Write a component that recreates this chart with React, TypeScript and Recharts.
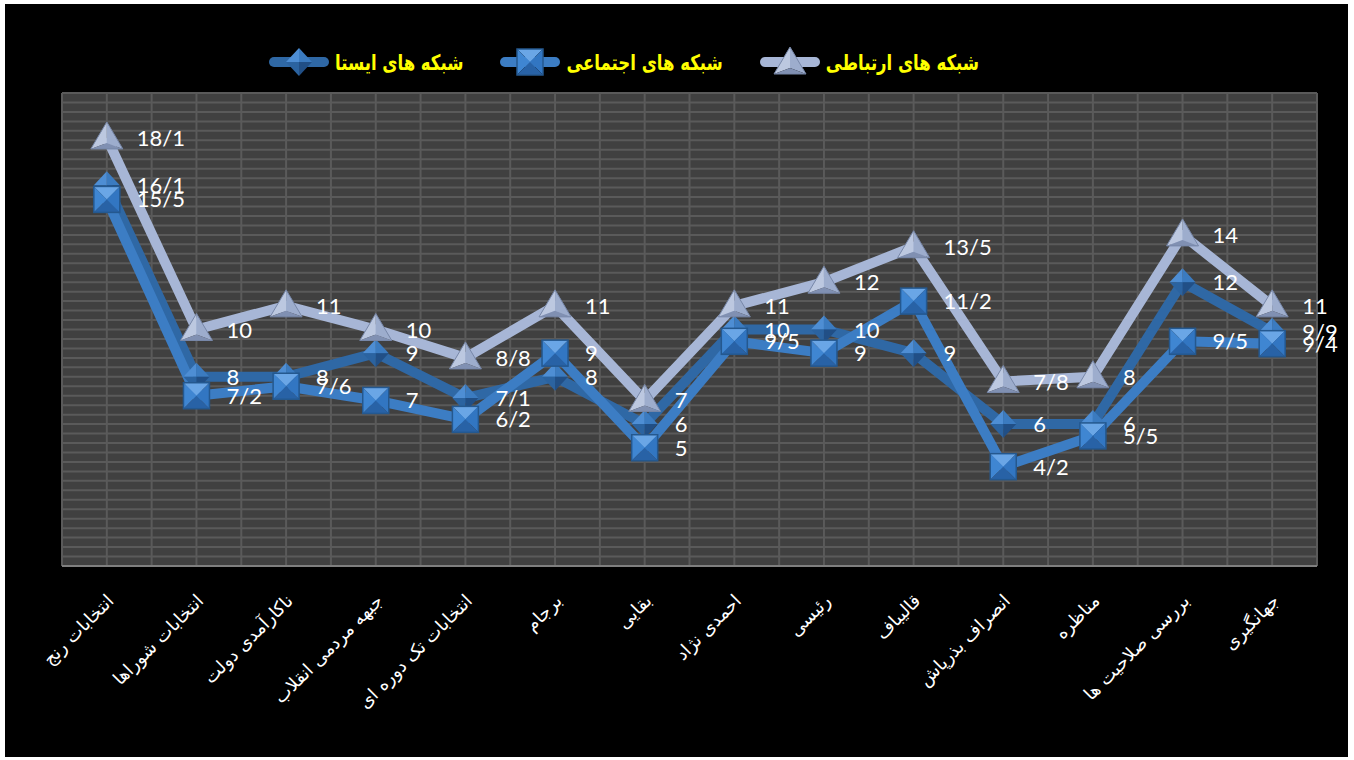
import React from 'react';
import { LineChart, Line, XAxis, YAxis, CartesianGrid, LabelList } from 'recharts';

const categories = [
  'انتخابات رنج',
  'انتخابات شوراها',
  'ناکارآمدی دولت',
  'جبهه مردمی انقلاب',
  'انتخابات تک دوره ای',
  'برجام',
  'بقایی',
  'احمدی نژاد',
  'رئیسی',
  'قالیباف',
  'انصراف بذرپاش',
  'مناظره',
  'بررسی صلاحیت ها',
  'جهانگیری',
];

const ertebati = [18.1, 10, 11, 10, 8.8, 11, 7, 11, 12, 13.5, 7.8, 8, 14, 11];
const ejtemaei = [15.5, 7.2, 7.6, 7, 6.2, 9, 5, 9.5, 9, 11.2, 4.2, 5.5, 9.5, 9.4];
const istaa = [16.1, 8, 8, 9, 7.1, 8, 6, 10, 10, 9, 6, 6, 12, 9.9];

const seriesNames = ['شبکه های ایستا', 'شبکه های اجتماعی', 'شبکه های ارتباطی'];

const yTicks: number[] = [];
for (let i = 0; i <= 50; i++) yTicks.push(Math.round(i * 0.4 * 10) / 10);
const xIdx = categories.map((_, i) => i);
const xGrid: number[] = [];
for (let i = 0; i <= 28; i++) xGrid.push(-0.5 + i * 0.5);

const data = categories.map((c, i) => ({
  idx: i,
  name: c,
  ertebati: ertebati[i],
  ejtemaei: ejtemaei[i],
  istaa: istaa[i],
}));

const C_ERT = '#A7B6D6';
const C_EJT = '#3C7DC4';
const C_IST = '#2F68A5';

const fmt = (v: any) => String(v).replace('.', '/');

const Triangle = ({ cx, cy }: any) => {
  if (cx == null || cy == null) return null;
  const top = [cx, cy - 16];
  const bl = [cx - 16, cy + 11];
  const br = [cx + 16, cy + 11];
  const c = [cx, cy + 5];
  const p = (a: number[]) => `${a[0]},${a[1]}`;
  return (
    <g>
      <polygon points={`${p(top)} ${p(bl)} ${p(c)}`} fill="#BCC8E0" />
      <polygon points={`${p(top)} ${p(br)} ${p(c)}`} fill="#9DADCD" />
      <polygon points={`${p(bl)} ${p(br)} ${p(c)}`} fill="#8090B2" />
      <polygon points={`${p(top)} ${p(bl)} ${p(br)}`} fill="none" stroke="#7787A8" strokeWidth={1} />
    </g>
  );
};

const Square = ({ cx, cy }: any) => {
  if (cx == null || cy == null) return null;
  const s = 13;
  const tl = [cx - s, cy - s];
  const tr = [cx + s, cy - s];
  const bl = [cx - s, cy + s];
  const br = [cx + s, cy + s];
  const c = [cx, cy];
  const p = (a: number[]) => `${a[0]},${a[1]}`;
  return (
    <g>
      <polygon points={`${p(tl)} ${p(tr)} ${p(c)}`} fill="#6AA6E6" />
      <polygon points={`${p(tl)} ${p(bl)} ${p(c)}`} fill="#3F86D2" />
      <polygon points={`${p(tr)} ${p(br)} ${p(c)}`} fill="#3276C2" />
      <polygon points={`${p(bl)} ${p(br)} ${p(c)}`} fill="#2862A6" />
      <rect x={cx - s} y={cy - s} width={2 * s} height={2 * s} fill="none" stroke="#24588F" strokeWidth={1.5} />
    </g>
  );
};

const Diamond = ({ cx, cy }: any) => {
  if (cx == null || cy == null) return null;
  const w = 13;
  const h = 14;
  const t = [cx, cy - h];
  const b = [cx, cy + h];
  const l = [cx - w, cy];
  const r = [cx + w, cy];
  const c = [cx, cy];
  const p = (a: number[]) => `${a[0]},${a[1]}`;
  return (
    <g>
      <polygon points={`${p(t)} ${p(l)} ${p(c)}`} fill="#4E8ED4" />
      <polygon points={`${p(t)} ${p(r)} ${p(c)}`} fill="#3B7BC0" />
      <polygon points={`${p(b)} ${p(l)} ${p(c)}`} fill="#2B63A0" />
      <polygon points={`${p(b)} ${p(r)} ${p(c)}`} fill="#214F86" />
    </g>
  );
};

const ValueLabel = (props: any) => {
  const { x, y, value } = props;
  if (x == null || y == null) return null;
  return (
    <text
      x={x + 30}
      y={y}
      dy={8}
      fill="#FFFFFF"
      fontFamily="Lato, 'Open Sans', sans-serif"
      fontSize={22}
      textAnchor="start"
    >
      {fmt(value)}
    </text>
  );
};

const CatTick = (props: any) => {
  const { x, y, payload } = props;
  return (
    <g transform={`translate(${x + 8},${y + 28})`}>
      <text
        transform="rotate(-45)"
        textAnchor="end"
        fill="#FFFFFF"
        fontFamily="'DejaVu Sans', sans-serif"
        fontSize={18}
      >
        {categories[payload.value]}
      </text>
    </g>
  );
};

const LegendIcon = ({ color, kind }: { color: string; kind: string }) => (
  <svg width={62} height={32} style={{ display: 'block' }}>
    <rect x={1} y={11} width={60} height={10} rx={5} fill={color} />
    {kind === 'tri' && <Triangle cx={31} cy={17} />}
    {kind === 'sq' && <Square cx={31} cy={16} />}
    {kind === 'dia' && <Diamond cx={31} cy={16} />}
  </svg>
);

const legendItems = [
  { name: seriesNames[0], color: C_IST, kind: 'dia' },
  { name: seriesNames[1], color: C_EJT, kind: 'sq' },
  { name: seriesNames[2], color: C_ERT, kind: 'tri' },
];

const CustomLegend = () => (
  <div style={{ display: 'flex', flexDirection: 'row', alignItems: 'center' }}>
    {legendItems.map((it, i) => (
      <div key={i} style={{ display: 'flex', alignItems: 'center', marginRight: i < 2 ? 36 : 0 }}>
        <LegendIcon color={it.color} kind={it.kind} />
        <span
          style={{
            display: 'inline-block',
            color: '#FFFF00',
            fontFamily: "'DejaVu Sans', sans-serif",
            fontWeight: 'bold',
            fontSize: 16.5,
            marginLeft: 5,
            direction: 'rtl',
            whiteSpace: 'nowrap',
            transform: 'scale(1, 1.3)',
          }}
        >
          {it.name}
        </span>
      </div>
    ))}
  </div>
);

export default function App() {
  return (
    <div style={{ position: 'absolute', left: 0, top: 0, width: 1354, height: 760, background: '#FFFFFF' }}>
      <div style={{ position: 'absolute', left: 5, top: 4, width: 1343, height: 753, background: '#000000' }} />
      <div style={{ position: 'absolute', left: 0, top: 0 }}>
        <LineChart width={1354} height={760} data={data} margin={{ top: 93, right: 37, bottom: 0, left: 62 }}>
          <CartesianGrid
            horizontalValues={yTicks}
            verticalValues={xGrid}
            stroke="#5A5A5A"
            strokeWidth={2}
            fill="#404040"
            fillOpacity={1}
          />
          <XAxis
            dataKey="idx"
            type="number"
            domain={[-0.5, 13.5]}
            ticks={xIdx}
            interval={0}
            tick={<CatTick />}
            tickLine={false}
            axisLine={{ stroke: '#7F7F7F', strokeWidth: 2 }}
            height={194}
          />
          <YAxis hide domain={[0, 20]} ticks={yTicks} interval={0} type="number" />
          <Line
            dataKey="istaa"
            name={seriesNames[0]}
            stroke={C_IST}
            strokeWidth={10}
            strokeLinejoin="round"
            dot={<Diamond />}
            activeDot={false}
            isAnimationActive={false}
          />
          <Line
            dataKey="ejtemaei"
            name={seriesNames[1]}
            stroke={C_EJT}
            strokeWidth={10}
            strokeLinejoin="round"
            dot={<Square />}
            activeDot={false}
            isAnimationActive={false}
          />
          <Line
            dataKey="ertebati"
            name={seriesNames[2]}
            stroke={C_ERT}
            strokeWidth={10}
            strokeLinejoin="round"
            dot={<Triangle />}
            activeDot={false}
            isAnimationActive={false}
          />
          <Line dataKey="istaa" stroke="none" dot={false} activeDot={false} legendType="none" isAnimationActive={false}>
            <LabelList dataKey="istaa" content={<ValueLabel />} />
          </Line>
          <Line dataKey="ejtemaei" stroke="none" dot={false} activeDot={false} legendType="none" isAnimationActive={false}>
            <LabelList dataKey="ejtemaei" content={<ValueLabel />} />
          </Line>
          <Line dataKey="ertebati" stroke="none" dot={false} activeDot={false} legendType="none" isAnimationActive={false}>
            <LabelList dataKey="ertebati" content={<ValueLabel />} />
          </Line>
        </LineChart>
      </div>
      <div style={{ position: 'absolute', left: 268, top: 46 }}>
        <CustomLegend />
      </div>
    </div>
  );
}
